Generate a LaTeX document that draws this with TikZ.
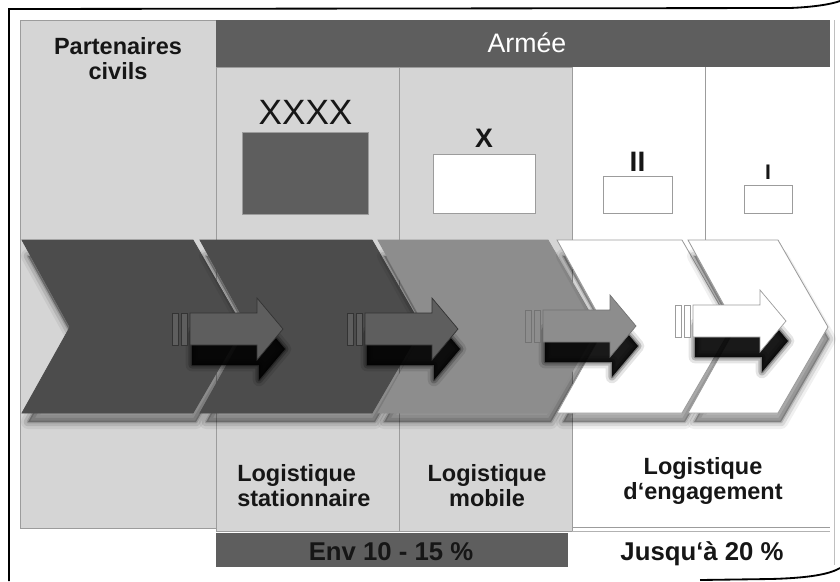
\documentclass[tikz,border=0pt]{standalone}
\usepackage{fontspec}
\setmainfont{Liberation Sans}
\usepackage{tikz}
\usetikzlibrary{positioning,calc}
\definecolor{armygray}{HTML}{5E5E5E}
\definecolor{chevdark}{HTML}{4C4C4C}
\definecolor{chevmid}{HTML}{8D8D8D}
\definecolor{panelgray}{HTML}{D5D5D5}
\definecolor{rulegray}{HTML}{9C9C9C}
\definecolor{inkblack}{HTML}{161616}

% block arrow: tail x, centre y, fill colour, outline colour
\newcommand{\supplyarrow}[4]{%
  \foreach \sw/\sop in {9/0.1,5/0.2,2/0.3}
    \draw[black,line width=\sw pt,opacity=\sop,line join=round]
      (#1+20,#2+4) -- (#1+87,#2+4) -- (#1+87,#2-11) -- (#1+113,#2+20)
      -- (#1+87,#2+51) -- (#1+87,#2+36) -- (#1+20,#2+36) -- cycle;
  \fill[black,opacity=0.9]
      (#1+20,#2+4) -- (#1+87,#2+4) -- (#1+87,#2-11) -- (#1+113,#2+20)
      -- (#1+87,#2+51) -- (#1+87,#2+36) -- (#1+20,#2+36) -- cycle;
  \draw[#4,fill=#3,line width=0.5pt] (#1,#2-16) rectangle (#1+6,#2+16);
  \draw[#4,fill=#3,line width=0.5pt] (#1+9,#2-16) rectangle (#1+15,#2+16);
  \draw[#4,fill=#3,line width=0.5pt] (#1+18,#2-16) -- (#1+85,#2-16)
    -- (#1+85,#2-31) -- (#1+111,#2) -- (#1+85,#2+31) -- (#1+85,#2+16)
    -- (#1+18,#2+16) -- cycle;
}

\tikzset{
  panel/.style={fill=panelgray,draw=rulegray,line width=0.6pt},
  unitbox/.style={draw=rulegray,line width=0.7pt,inner sep=0pt},
  echelon/.style={inner sep=0pt,text=inkblack},
  phaselabel/.style={inner sep=0pt,text=inkblack,align=center,
    font=\fontsize{16.7}{17.8}\selectfont\bfseries},
}

\begin{document}
\begin{tikzpicture}[x=0.025cm,y=-0.025cm]
\path[use as bounding box] (0,0) rectangle (840,581);

% scanned page frame
\draw[line width=1.3pt] (9,581) -- (9,9) -- (790,8)
  .. controls (815,7) and (832,4) .. (840,1);
\draw[line width=1.3pt] (700,580) -- (770,579)
  .. controls (810,578) and (830,574) .. (840,568);
\draw[black!25,line width=0.5pt] (834,20) -- (834,565);

% columns
\fill[panel] (20,20) rectangle (216,528);
\fill[panel] (216,67) rectangle (572,531);
\draw[rulegray,line width=0.6pt] (20,20) rectangle (216,528);
\draw[rulegray,line width=0.6pt] (216,67) rectangle (572,531);
\draw[rulegray,line width=0.6pt] (399,67) -- (399,531);
\draw[rulegray,line width=0.6pt] (705,67) -- (705,240);
\draw[rulegray,line width=0.5pt] (572,527) -- (830,527);
\draw[black!30,line width=0.5pt] (572,531) -- (830,531);
\fill[armygray] (216,20) rectangle (830,67);

\node[phaselabel,anchor=north] (civils) at (118,37) {Partenaires\\civils};
\node[anchor=base,inner sep=0pt,text=white,font=\fontsize{19}{19}\selectfont]
  (armee) at (527,52) {Armée};

% unit symbols
\node[unitbox,fill=armygray,minimum width=3.125cm,minimum height=2.05cm]
  (xxxxbox) at (305.5,173) {};
\node[unitbox,fill=white,minimum width=2.55cm,minimum height=1.475cm]
  (xbox) at (484,183.5) {};
\node[unitbox,fill=white,minimum width=1.725cm,minimum height=0.925cm]
  (iibox) at (637.5,194.5) {};
\node[unitbox,fill=white,minimum width=1.2cm,minimum height=0.7cm]
  (ibox) at (768,199) {};
\node[echelon,above=5pt of xxxxbox,font=\fontsize{25}{25}\selectfont]
  (xxxx) {XXXX};
\node[echelon,above=4.3pt of xbox,font=\fontsize{19}{19}\selectfont\bfseries]
  (xsym) {X};
\node[echelon,above=2.8pt of iibox,font=\fontsize{20}{20}\selectfont\bfseries]
  (iisym) {II};
\node[echelon,above=3.4pt of ibox,font=\fontsize{15}{15}\selectfont\bfseries]
  (isym) {I};

% chevrons, each one casting a soft shadow on its left neighbour
\foreach \xl/\xr/\fc/\ec in {22/193/chevdark/chevdark,200/372/chevdark/chevdark,
    378/548/chevmid/chevmid,557/682/white/rulegray,688/778/white/rulegray}{
  \foreach \sw/\sop in {10/0.06,6/0.1,2/0.15}
    \draw[black,line width=\sw pt,opacity=\sop,line join=round]
      (\xl+6,256) -- (\xr+3,256) -- (\xr+51,339) -- (\xr+3,422)
      -- (\xl+6,422) -- (\xl+52,339) -- cycle;
  \fill[black,opacity=0.3]
      (\xl+6,256) -- (\xr+3,256) -- (\xr+51,339) -- (\xr+3,422)
      -- (\xl+6,422) -- (\xl+52,339) -- cycle;
  \draw[fill=\fc,draw=\ec,line width=0.6pt] (\xl,240) -- (\xr,240)
    -- (\xr+50,327) -- (\xr,413) -- (\xl,413) -- (\xl+48,327) -- cycle;
}

% arrows along the chain
\supplyarrow{172}{329}{chevdark!90!white}{black!80}
\supplyarrow{347}{329}{chevdark!90!white}{black!80}
\supplyarrow{525}{326}{chevmid}{black!55}
\supplyarrow{675}{321}{white}{rulegray}

% phase labels
\node[phaselabel,anchor=north west,align=left] (stationnaire) at (237,464)
  {Logistique\\stationnaire};
\node[phaselabel,anchor=north] (mobile) at (487,464) {Logistique\\mobile};
\node[phaselabel,anchor=north] (engagement) at (703,457)
  {Logistique\\d‘engagement};

% share of the effort
\fill[armygray] (216,533) rectangle (568,567);
\node[anchor=base,inner sep=0pt,text=inkblack,
  font=\fontsize{18.3}{18.3}\selectfont\bfseries] (envbar) at (391,560)
  {Env 10 - 15 \%};
\node[anchor=base,inner sep=0pt,text=inkblack,
  font=\fontsize{18.3}{18.3}\selectfont\bfseries] (jusqua) at (702,560)
  {Jusqu‘à 20 \%};
\end{tikzpicture}
\end{document}
